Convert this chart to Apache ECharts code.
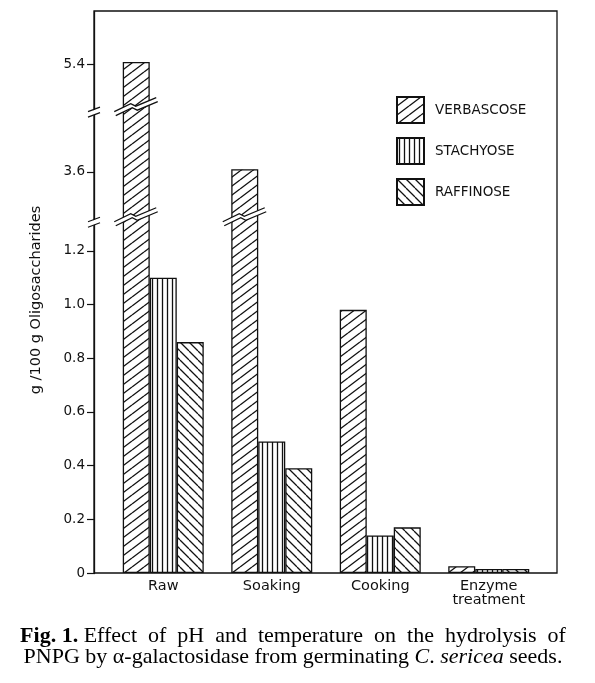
<!DOCTYPE html>
<html><head><meta charset="utf-8">
<script src="https://cdn.jsdelivr.net/npm/echarts@6/dist/echarts.min.js"></script>
<style>html,body{margin:0;padding:0;background:#fff}#c{width:595px;height:683px}</style>
</head><body><div id="c"></div>
<script>
// ---- data ----
const categories = ['Raw', 'Soaking', 'Cooking', 'Enzyme\ntreatment'];
const seriesNames = ['VERBASCOSE', 'STACHYOSE', 'RAFFINOSE'];
const verbascose = [5.41, 3.61, 0.98, 0.025];
const stachyose = [1.10, 0.49, 0.14, 0.015];
const raffinose = [0.86, 0.39, 0.17, 0.015];
const yTickValues = [0, 0.2, 0.4, 0.6, 0.8, 1.0, 1.2, 3.6, 5.4];
const axisBreaks = [[1.323, 3.429], [3.839, 5.24]];
const yMax = 5.6;
const yTitle = 'g /100 g Oligosaccharides';
const captionLine1 = '{b|Fig. 1.} Effect  of  pH  and  temperature  on  the  hydrolysis  of';
const captionLine2 = 'PNPG by α-galactosidase from germinating {i|C}. {i|sericea} seeds.';

// ---- patterns ----
function makePattern(kind) {
  const c = document.createElement('canvas');
  let w, h;
  if (kind === 'fwd') { w = 12; h = 9; } else if (kind === 'back') { w = 9; h = 9; } else { w = 5; h = 4; }
  c.width = w; c.height = h;
  const g = c.getContext('2d');
  g.fillStyle = '#fff'; g.fillRect(0, 0, w, h);
  g.strokeStyle = '#111'; g.lineWidth = 1.3;
  g.beginPath();
  if (kind === 'fwd') { for (let k = -1; k <= 1; k++) { g.moveTo(0, h + h * k); g.lineTo(w, h * k); } }
  else if (kind === 'back') { for (let k = -1; k <= 1; k++) { g.moveTo(0, h * k); g.lineTo(w, h + h * k); } }
  else { g.moveTo(2.5, 0); g.lineTo(2.5, h); }
  g.stroke();
  return { image: c, repeat: 'repeat' };
}
const seriesData = [verbascose, stachyose, raffinose];
const patterns = [makePattern('fwd'), makePattern('vert'), makePattern('back')];

const FONT = 'DejaVu Sans';
const INK = '#111';
const BAR_W = 27;
const CAP = 22;

function yAxisBase(extra) {
  return Object.assign({
    type: 'value', min: 0, max: yMax,
    breaks: axisBreaks.map(b => ({ start: b[0], end: b[1], gap: 0 })),
    breakArea: { show: false },
    splitLine: { show: false }
  }, extra);
}

// break marks on bars that pass through a break
const barBreakMarks = [];
axisBreaks.forEach(b => {
  seriesData.forEach((d, si) => {
    d.forEach((v, ci) => { if (v > b[1]) barBreakMarks.push([ci, b[0], si]); });
  });
});
const axisBreakMarks = axisBreaks.map(b => [0, b[0]]);

const bars = seriesData.map((d, i) => ({
  name: seriesNames[i], type: 'bar', xAxisIndex: 1, yAxisIndex: 1, data: d,
  barWidth: BAR_W, barGap: '0%',
  itemStyle: { color: patterns[i], borderColor: INK, borderWidth: 1.3 },
  z: 2
}));

const chart = echarts.init(document.getElementById('c'), null, { renderer: 'canvas' });
chart.setOption({
  animation: false,
  backgroundColor: '#fff',
  grid: [
    { left: 94, right: 38, top: 11, bottom: 110, show: true, borderColor: INK, borderWidth: 1.3, backgroundColor: 'transparent' },
    { left: 109, right: 52, top: 11, bottom: 110 }
  ],
  xAxis: [
    { gridIndex: 0, type: 'value', min: 0, max: 1, show: false },
    { gridIndex: 1, type: 'category', data: categories, boundaryGap: true,
      axisLine: { show: false }, axisTick: { show: false },
      axisLabel: { fontFamily: FONT, fontSize: 14.5, color: INK, margin: 6, lineHeight: 14 } }
  ],
  yAxis: [
    yAxisBase({ gridIndex: 0,
      axisLine: { show: true, lineStyle: { color: INK, width: 1.3 } },
      axisTick: { show: true, length: 7, inside: false, lineStyle: { color: INK, width: 1.2 }, customValues: yTickValues },
      axisLabel: { show: true, customValues: yTickValues, fontFamily: FONT, fontSize: 13.5, color: INK, margin: 9,
        formatter: v => (v === 0 ? '0' : Number(v).toFixed(1)) } }),
    yAxisBase({ gridIndex: 1, show: false })
  ],
  legend: {
    data: seriesNames, orient: 'vertical', left: 391, top: 91, itemGap: 13,
    itemWidth: 27, itemHeight: 26, icon: 'rect', selectedMode: false,
    textStyle: { fontFamily: FONT, fontSize: 13.5, color: INK, padding: [0, 0, 0, 6] }
  },
  graphic: [
    { type: 'text', x: 36, y: 300, rotation: Math.PI / 2,
      style: { text: yTitle, font: '14.5px "DejaVu Sans"', fill: INK, align: 'center', verticalAlign: 'middle' } },
    { type: 'text', x: 293, y: 636,
      style: { text: captionLine1, fontFamily: 'Liberation Serif', fontSize: CAP, fill: '#000', align: 'center', verticalAlign: 'middle',
        rich: { b: { fontWeight: 'bold', fontFamily: 'Liberation Serif', fontSize: CAP } } } },
    { type: 'text', x: 293, y: 657,
      style: { text: captionLine2, fontFamily: 'Liberation Serif', fontSize: CAP, fill: '#000', align: 'center', verticalAlign: 'middle',
        rich: { i: { fontStyle: 'italic', fontFamily: 'Liberation Serif', fontSize: CAP } } } }
  ],
  series: bars.concat([
    {
      type: 'custom', xAxisIndex: 1, yAxisIndex: 1, data: barBreakMarks, z: 5, silent: true,
      renderItem(params, api) {
        const ci = api.value(0), v = api.value(1), si = api.value(2);
        const p = api.coord([ci, v]);
        const cx = p[0] + (si - 1) * BAR_W, cy = p[1];
        const l1 = [[-22, 4], [-5.5, -4], [-0.5, -1.5], [20, -10]].map(q => [cx + q[0], cy + q[1]]);
        const l2 = l1.map(q => [q[0] + 1.5, q[1] + 4]);
        return { type: 'group', children: [
          { type: 'polygon', shape: { points: l1.concat(l2.slice().reverse()) }, style: { fill: '#fff', stroke: null } },
          { type: 'polyline', shape: { points: l1 }, style: { stroke: INK, lineWidth: 1.3, fill: null } },
          { type: 'polyline', shape: { points: l2 }, style: { stroke: INK, lineWidth: 1.3, fill: null } }
        ] };
      }
    },
    {
      type: 'custom', xAxisIndex: 0, yAxisIndex: 0, data: axisBreakMarks, z: 5, silent: true,
      renderItem(params, api) {
        const p = api.coord([api.value(0), api.value(1)]);
        const x = p[0], y = p[1];
        return { type: 'group', children: [
          { type: 'polygon', shape: { points: [[x - 2, y + 3], [x + 2, y + 1.5], [x + 2, y + 6.5], [x - 2, y + 8]] }, style: { fill: '#fff', stroke: null } },
          { type: 'line', shape: { x1: x - 6, y1: y + 4, x2: x + 6, y2: y - 0.5 }, style: { stroke: INK, lineWidth: 1.2 } },
          { type: 'line', shape: { x1: x - 6, y1: y + 9.5, x2: x + 6, y2: y + 5 }, style: { stroke: INK, lineWidth: 1.2 } }
        ] };
      }
    }
  ])
});
</script>
</body></html>
